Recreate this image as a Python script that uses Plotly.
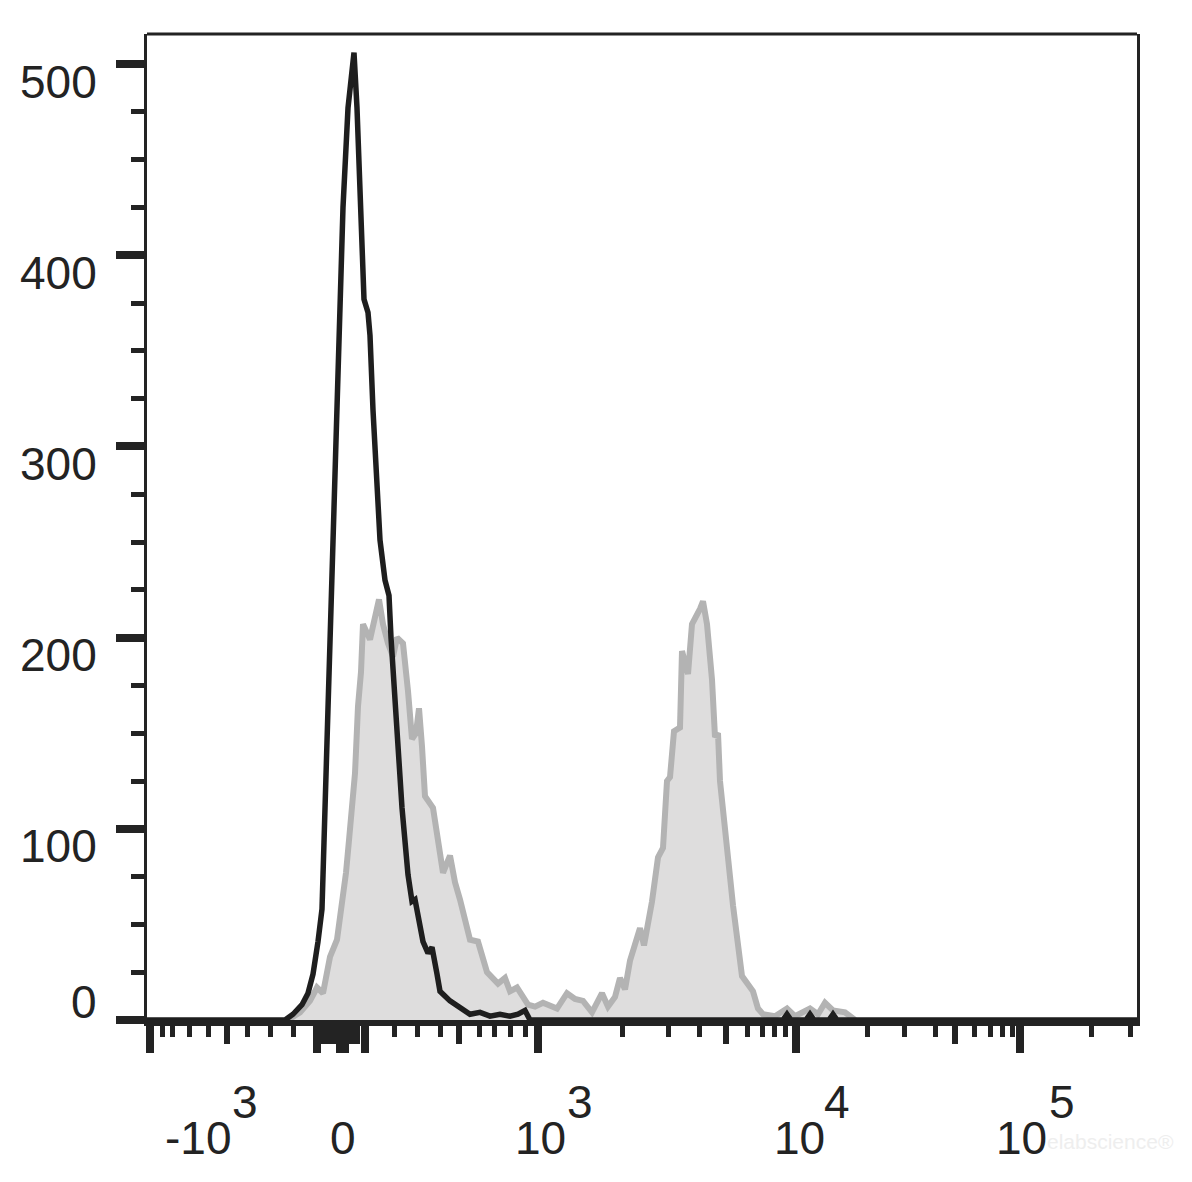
import plotly.graph_objects as go

# ---- data (display channel on biexponential axis, counts) ----
black_ch = [0, 138, 146, 155, 161, 166, 171, 175, 177, 180, 182, 185, 187, 190, 192, 196, 201, 207,
            210, 214, 217, 221, 223, 226, 231, 233, 238, 242, 244, 250, 255, 261, 265, 268, 276, 281,
            285, 290, 293, 303, 316, 323, 333, 343, 353, 363, 371, 378, 383, 636, 640, 644, 659, 663,
            667, 682, 686, 690, 990]
black_count = [0, 0, 3, 8, 14, 24, 41, 58, 93, 146, 198, 250, 268, 320, 372, 425, 477, 506,
               477, 425, 377, 370, 358, 319, 267, 251, 230, 222, 200, 146, 111, 76, 62, 63, 41, 35,
               38, 24, 15, 10, 5, 3, 4, 2, 3, 2, 3, 5, 0, 0, 3, 0, 0, 3,
               0, 0, 3, 0, 0]

gray_ch = [141, 153, 163, 170, 176, 183, 190, 195, 199, 202, 208, 211, 214, 216, 223, 232, 236,
           241, 246, 250, 256, 261, 265, 269, 272, 275, 278, 286, 291, 296, 303, 308, 313, 323,
           331, 340, 351, 358, 363, 370, 381, 388, 396, 410, 420, 428, 436, 445, 455, 461, 468,
           473, 478, 483, 493, 497, 505, 511, 516, 520, 523, 527, 533, 535, 541, 545, 553, 556,
           560, 565, 568, 571, 573, 580, 586, 595, 606, 611, 616, 628, 640, 648, 663, 671, 678,
           686, 698, 708]
gray_count = [0, 4, 10, 17, 14, 33, 42, 59, 77, 94, 129, 164, 182, 207, 199, 220, 207,
              197, 190, 200, 197, 172, 147, 150, 163, 143, 117, 111, 95, 77, 86, 72, 63, 42,
              41, 25, 19, 22, 15, 17, 8, 7, 9, 6, 14, 11, 10, 4, 14, 7, 12,
              22, 16, 31, 48, 39, 62, 85, 90, 125, 127, 151, 153, 193, 181, 207, 215, 219,
              207, 178, 148, 150, 125, 86, 60, 23, 15, 6, 3, 2, 6, 2, 6, 3, 9,
              5, 4, 0]

x_range = [0, 990]
y_range = [0, 515.7]

y_major_ticks = [0, 100, 200, 300, 400, 500]
y_minor_ticks = [25, 50, 75, 125, 150, 175, 225, 250, 275, 325, 350, 375, 425, 450, 475, 525]
y_tick_labels = ["0", "100", "200", "300", "400", "500"]

x_major_ticks = [3, 169.5, 193, 198, 218, 390.5, 649, 873]
x_medium_ticks = [80, 177, 182, 187, 205, 210, 312, 579, 808]
x_minor_ticks = [15, 25, 42, 61, 100, 123, 146, 247, 270, 293, 332, 347, 363, 378,
                 475, 521, 552, 600, 615, 627, 638, 720, 757, 788, 827, 843, 855, 865, 944, 983]

# decade labels: base text, base position, exponent text, exponent position
x_label_base = ["-10", "0", "10", "10", "10"]
x_label_base_pos = [51, 196, 393, 652, 874]
x_label_exp = ["3", "", "3", "4", "5"]
x_label_exp_pos = [98, 0, 433, 690, 915]

INK = "#232323"
FONT = "Liberation Sans, Arial, sans-serif"

fig = go.Figure()

fig.add_trace(go.Scatter(
    x=gray_ch, y=gray_count, mode="lines", fill="tozeroy",
    fillcolor="#dedddd", line=dict(color="#b3b3b3", width=6),
    showlegend=False, hoverinfo="skip"))

fig.add_trace(go.Scatter(
    x=black_ch, y=black_count, mode="lines",
    line=dict(color="#1e1e1e", width=5.5),
    showlegend=False, hoverinfo="skip"))

# dummy traces so the tick-only axes are drawn
for ax in ["x2", "x3", "x4"]:
    fig.add_trace(go.Scatter(x=[x_range[0]], y=[0], xaxis=ax, yaxis="y", mode="markers",
                             marker=dict(opacity=0, size=1), showlegend=False, hoverinfo="skip"))

dom_bottom = 4 / 990

fig.update_layout(
    width=1192, height=1182,
    margin=dict(l=139, r=63, t=26, b=166),
    paper_bgcolor="white", plot_bgcolor="white",
    font=dict(family=FONT, color=INK),
    xaxis=dict(range=x_range, showline=True, linewidth=6, linecolor=INK,
               ticks="", showticklabels=False, showgrid=False, zeroline=False, fixedrange=True),
    yaxis=dict(range=y_range, domain=[dom_bottom, 1], showline=True, linewidth=2.5, linecolor=INK,
               mirror=True, ticks="outside", tickvals=y_major_ticks, ticklen=28, tickwidth=8,
               tickcolor=INK, showticklabels=False, showgrid=False, zeroline=False,
               minor=dict(tickvals=y_minor_ticks, ticks="outside", ticklen=13, tickwidth=5,
                          tickcolor=INK, showgrid=False)),
)

def tick_axis(vals, length, width):
    return dict(range=x_range, overlaying="x", anchor="free", position=0, side="bottom",
                showline=False, showgrid=False, zeroline=False, showticklabels=False,
                ticks="outside", tickvals=vals, ticklen=length, tickwidth=width, tickcolor=INK)

fig.update_layout(xaxis2=tick_axis(x_major_ticks, 28, 8),
                  xaxis3=tick_axis(x_medium_ticks, 19, 6),
                  xaxis4=tick_axis(x_minor_ticks, 12, 5))

# top frame line
fig.add_shape(type="line", xref="paper", yref="paper", x0=0, x1=1, y0=1, y1=1,
              line=dict(color=INK, width=3))

annotations = []
for val, txt in zip(y_major_ticks, y_tick_labels):
    shift = 18 if val == 0 else -17.5
    annotations.append(dict(text=txt, xref="paper", yref="y", x=0, y=val, xanchor="right",
                            yanchor="middle", xshift=-48, yshift=shift, showarrow=False,
                            font=dict(size=46, family=FONT, color=INK)))
for btxt, bpos, etxt, epos in zip(x_label_base, x_label_base_pos, x_label_exp, x_label_exp_pos):
    annotations.append(dict(text=btxt, xref="x", yref="paper", x=bpos, y=0, xanchor="center",
                            yanchor="middle", yshift=-114, showarrow=False,
                            font=dict(size=46, family=FONT, color=INK)))
    if etxt:
        annotations.append(dict(text=etxt, xref="x", yref="paper", x=epos, y=0, xanchor="center",
                                yanchor="middle", yshift=-78, showarrow=False,
                                font=dict(size=46, family=FONT, color=INK)))
annotations.append(dict(text="elabscience®", xref="paper", yref="paper", x=1, y=0,
                        xanchor="left", yanchor="middle", xshift=-92, yshift=-117,
                        showarrow=False, font=dict(size=21, family=FONT, color="#eeeeee")))
fig.update_layout(annotations=annotations)

fig.write_html("out.html")
